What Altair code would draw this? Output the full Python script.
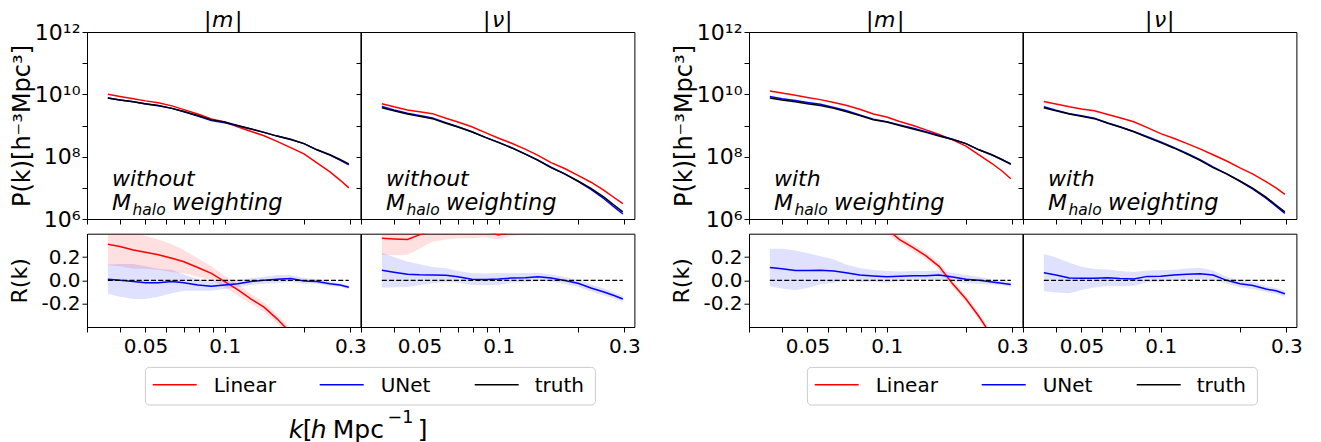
import altair as alt
import pandas as pd

FONT = "DejaVu Sans"

# ---------------- data ----------------
k = [0.036, 0.040, 0.045, 0.050, 0.056, 0.063, 0.070, 0.079, 0.089, 0.100,
     0.112, 0.126, 0.141, 0.158, 0.178, 0.200, 0.224, 0.251, 0.274, 0.296]

# log10 P(k)
logP_truth_m = [9.88, 9.82, 9.76, 9.70, 9.64, 9.55, 9.45, 9.32, 9.18, 9.11,
                9.00, 8.89, 8.78, 8.66, 8.55, 8.42, 8.22, 8.06, 7.91, 7.77]
logP_truth_nu = [9.57, 9.47, 9.37, 9.30, 9.22, 9.07, 8.95, 8.80, 8.62, 8.45,
                 8.28, 8.08, 7.88, 7.65, 7.45, 7.22, 6.98, 6.70, 6.45, 6.23]
logP_lin_m_wo = [10.00, 9.93, 9.86, 9.79, 9.73, 9.63, 9.51, 9.37, 9.21, 9.11,
                 8.96, 8.81, 8.67, 8.49, 8.29, 8.09, 7.80, 7.51, 7.25, 7.00]
logP_unet_m_wo = [9.88, 9.82, 9.76, 9.69, 9.63, 9.55, 9.44, 9.30, 9.16, 9.09,
                  8.99, 8.89, 8.78, 8.66, 8.56, 8.42, 8.22, 8.05, 7.89, 7.74]
logP_lin_nu_wo = [9.70, 9.60, 9.50, 9.44, 9.38, 9.23, 9.11, 8.96, 8.77, 8.59,
                  8.43, 8.24, 8.04, 7.81, 7.62, 7.40, 7.18, 6.92, 6.69, 6.49]
logP_unet_nu_wo = [9.61, 9.50, 9.39, 9.32, 9.24, 9.09, 8.96, 8.80, 8.62, 8.46,
                   8.29, 8.09, 7.89, 7.66, 7.45, 7.21, 6.95, 6.65, 6.39, 6.16]
logP_lin_m_w = [10.11, 10.04, 9.97, 9.90, 9.83, 9.74, 9.65, 9.52, 9.37, 9.27,
                9.13, 9.00, 8.86, 8.71, 8.54, 8.34, 8.06, 7.78, 7.54, 7.29]
logP_unet_m_w = [9.93, 9.86, 9.80, 9.74, 9.68, 9.58, 9.48, 9.34, 9.20, 9.12,
                 9.02, 8.91, 8.80, 8.68, 8.56, 8.42, 8.22, 8.05, 7.90, 7.75]
logP_lin_nu_w = [9.77, 9.69, 9.60, 9.53, 9.47, 9.35, 9.25, 9.12, 8.93, 8.74,
                 8.59, 8.42, 8.25, 8.06, 7.86, 7.64, 7.44, 7.20, 7.00, 6.79]
logP_unet_nu_w = [9.60, 9.49, 9.38, 9.31, 9.23, 9.08, 8.96, 8.81, 8.64, 8.47,
                  8.30, 8.10, 7.90, 7.67, 7.45, 7.21, 6.96, 6.67, 6.41, 6.18]

# R(k) and half-width of the shaded band
R_lin_m_wo = [0.31, 0.29, 0.26, 0.24, 0.22, 0.19, 0.16, 0.11, 0.06, -0.01,
              -0.08, -0.16, -0.23, -0.33, -0.45, -0.53, -0.62, -0.72, -0.78, -0.83]
hw_lin_m_wo = [0.18, 0.17, 0.16, 0.14, 0.13, 0.12, 0.10, 0.08, 0.06, 0.05,
               0.05, 0.04, 0.04, 0.04, 0.04, 0.04, 0.04, 0.04, 0.04, 0.04]
R_unet_m_wo = [0.01, 0.0, -0.01, -0.02, -0.02, -0.01, -0.02, -0.04, -0.05, -0.04,
               -0.03, -0.01, 0.0, 0.01, 0.015, -0.005, -0.01, -0.03, -0.04, -0.06]
hw_unet_m_wo = [0.125, 0.14, 0.15, 0.14, 0.12, 0.10, 0.07, 0.05, 0.04, 0.035,
                0.03, 0.03, 0.03, 0.035, 0.03, 0.025, 0.02, 0.02, 0.015, 0.015]

R_lin_nu_wo = [0.36, 0.355, 0.35, 0.39, 0.43, 0.44, 0.44, 0.43, 0.42, 0.39,
               0.42, 0.43, 0.44, 0.45, 0.48, 0.52, 0.58, 0.66, 0.74, 0.82]
hw_lin_nu_wo = [0.14, 0.14, 0.13, 0.12, 0.10, 0.09, 0.08, 0.07, 0.05, 0.04,
                0.04, 0.04, 0.04, 0.04, 0.04, 0.04, 0.05, 0.05, 0.05, 0.05]
R_unet_nu_wo = [0.086, 0.07, 0.052, 0.047, 0.045, 0.043, 0.03, 0.01, 0.008, 0.012,
                0.02, 0.022, 0.03, 0.02, -0.002, -0.025, -0.065, -0.10, -0.13, -0.16]
hw_unet_nu_wo = [0.15, 0.13, 0.11, 0.09, 0.07, 0.06, 0.05, 0.05, 0.05, 0.05,
                 0.04, 0.04, 0.035, 0.03, 0.03, 0.03, 0.03, 0.03, 0.025, 0.025]

R_lin_m_w = [0.70, 0.66, 0.62, 0.58, 0.55, 0.56, 0.58, 0.60, 0.55, 0.44,
             0.35, 0.28, 0.21, 0.12, -0.03, -0.16, -0.31, -0.48, -0.57, -0.67]
hw_lin_m_w = [0.08, 0.08, 0.07, 0.07, 0.06, 0.06, 0.05, 0.05, 0.04, 0.04,
              0.03, 0.03, 0.03, 0.03, 0.03, 0.03, 0.03, 0.03, 0.03, 0.03]
R_unet_m_w = [0.11, 0.10, 0.085, 0.085, 0.086, 0.08, 0.065, 0.045, 0.038, 0.03,
              0.035, 0.04, 0.04, 0.045, 0.028, 0.01, 0.0, -0.015, -0.025, -0.035]
hw_unet_m_w = [0.16, 0.17, 0.17, 0.15, 0.12, 0.10, 0.07, 0.06, 0.05, 0.05,
               0.04, 0.04, 0.04, 0.04, 0.035, 0.035, 0.03, 0.02, 0.02, 0.02]

R_lin_nu_w = [0.58, 0.66, 0.70, 0.70, 0.78, 0.91, 1.00, 1.09, 1.04, 0.95,
              1.04, 1.19, 1.34, 1.57, 1.69, 1.51, 1.95, 2.16, 2.55, 2.63]
hw_lin_nu_w = [0.06, 0.06, 0.06, 0.06, 0.06, 0.06, 0.06, 0.06, 0.06, 0.06,
               0.06, 0.06, 0.06, 0.06, 0.06, 0.06, 0.06, 0.06, 0.06, 0.06]
R_unet_nu_w = [0.066, 0.045, 0.02, 0.017, 0.018, 0.022, 0.015, 0.012, 0.034, 0.036,
               0.045, 0.052, 0.057, 0.045, 0.0, -0.03, -0.045, -0.075, -0.09, -0.115]
hw_unet_nu_w = [0.16, 0.15, 0.13, 0.10, 0.08, 0.07, 0.065, 0.06, 0.05, 0.05,
                0.045, 0.05, 0.05, 0.04, 0.03, 0.03, 0.03, 0.025, 0.025, 0.025]

series_names = ["Linear", "UNet", "truth"]
series_colors = ["red", "blue", "black"]

K_TICKS = [0.03, 0.04, 0.05, 0.06, 0.07, 0.08, 0.09, 0.1, 0.2, 0.3]
P_TICKS = [1e6, 1e7, 1e8, 1e9, 1e10, 1e11, 1e12]
R_TICKS = [-0.2, 0.0, 0.2]

# ---------------- layout constants ----------------
W = 273.4
HT = 187
HB = 93.3
HL = 101
GAP = 113.3
VSP = 14.7

xs = alt.Scale(type="log", domain=[0.030, 0.3275], nice=False)
ys_top = alt.Scale(type="log", domain=[1e6, 1e12], nice=False)
ys_bot = alt.Scale(domain=[-0.4, 0.4], nice=False, zero=False)

P_LABELS = ("round(log(datum.value)/LN10) == 12 ? '10¹²' : "
            "round(log(datum.value)/LN10) == 10 ? '10¹⁰' : "
            "round(log(datum.value)/LN10) == 8 ? '10⁸' : "
            "round(log(datum.value)/LN10) == 6 ? '10⁶' : ''")
K_LABELS = ("abs(datum.value-0.05) < 1e-6 ? '0.05' : "
            "abs(datum.value-0.1) < 1e-6 ? '0.1' : "
            "abs(datum.value-0.3) < 1e-6 ? '0.3' : ''")
R_LABELS = ("datum.value < -0.1 ? '-0.2' : datum.value > 0.1 ? '0.2' : '0.0'")

one = pd.DataFrame({"a": [0]})
NOSTROKE = alt.ViewBackground(stroke="transparent")


def txt(s, x, y, size=22, italic=False, align="left", baseline="alphabetic"):
    return alt.Chart(one).mark_text(
        text=s, font=FONT, fontSize=size, fontStyle="italic" if italic else "normal",
        align=align, baseline=baseline, color="black"
    ).encode(x=alt.value(x), y=alt.value(y))


def top_panel(truth, lin, unet, sym, first_col, note):
    rows = []
    for name, arr in zip(series_names, [lin, unet, truth]):
        for kk, v in zip(k, arr):
            rows.append({"k": kk, "series": name, "P": 10 ** v})
    df = pd.DataFrame(rows)
    xenc = alt.X("k:Q", scale=xs,
                 axis=alt.Axis(values=K_TICKS, labels=False, title=None,
                               labelFlush=False, labelOverlap=False))
    if first_col:
        yax = alt.Axis(values=P_TICKS, labelExpr=P_LABELS, labelOverlap=False,
                       labelFlush=False, labelFontSize=22,
                       title="P(k)[h⁻³Mpc³]", titleFontSize=24, titlePadding=0)
    else:
        yax = alt.Axis(values=P_TICKS, labels=False, title=None)
    yenc = alt.Y("P:Q", scale=ys_top, axis=yax)
    layers = []
    for name, col in zip(series_names, series_colors):
        layers.append(
            alt.Chart(df).transform_filter(alt.datum.series == name)
            .mark_line(color=col, strokeWidth=1.5, clip=True)
            .encode(x=xenc, y=yenc)
        )
    cx = W / 2
    ty = -5
    if sym == "m":
        layers += [txt("|", cx - 16, ty, align="center"),
                   txt("m", cx - 1, ty, italic=True, align="center"),
                   txt("|", cx + 15, ty, align="center")]
    else:
        layers += [txt("|", cx - 11, ty, align="center"),
                   txt("ν", cx + 0.5, ty, italic=True, align="center"),
                   txt("|", cx + 11, ty, align="center")]
    layers += [txt(note, 25, 154, size=22, italic=True),
               txt("M", 25, 177.5, size=22, italic=True),
               txt("halo", 45.5, 182.5, size=15.5, italic=True),
               txt("weighting", 85, 177.5, size=22.5, italic=True)]
    return alt.layer(*layers).properties(width=W, height=HT)


def bot_panel(Rl, hwl, Ru, hwu, first_col):
    rows = []
    for name, R, hw in [("Linear", Rl, hwl), ("UNet", Ru, hwu)]:
        for kk, r, h in zip(k, R, hw):
            rows.append({"k": kk, "series": name, "R": r, "lo": r - h, "hi": r + h})
    for kk in k:
        rows.append({"k": kk, "series": "truth", "R": 0.0, "lo": 0.0, "hi": 0.0})
    df = pd.DataFrame(rows)
    xenc = alt.X("k:Q", scale=xs,
                 axis=alt.Axis(values=K_TICKS, labelExpr=K_LABELS, title=None,
                               labelFlush=False, labelOverlap=False, labelPadding=4))
    if first_col:
        yax = alt.Axis(values=R_TICKS, labelExpr=R_LABELS, title="R(k)",
                       labelFlush=False, labelOverlap=False, titlePadding=9)
    else:
        yax = alt.Axis(values=R_TICKS, labels=False, ticks=False, title=None)
    yenc = alt.Y("R:Q", scale=ys_bot, axis=yax)
    layers = []
    for name, col in [("Linear", "red"), ("UNet", "blue")]:
        layers.append(
            alt.Chart(df).transform_filter(alt.datum.series == name)
            .mark_area(color=col, opacity=0.12, clip=True)
            .encode(x=xenc, y=alt.Y("lo:Q", scale=ys_bot, axis=yax), y2="hi:Q")
        )
    for name, col in [("Linear", "red"), ("UNet", "blue")]:
        layers.append(
            alt.Chart(df).transform_filter(alt.datum.series == name)
            .mark_line(color=col, strokeWidth=1.5, clip=True)
            .encode(x=xenc, y=yenc)
        )
    layers.append(
        alt.Chart(df).transform_filter(alt.datum.series == "truth")
        .mark_line(color="black", strokeWidth=1.2, strokeDash=[5, 2.2], clip=True)
        .encode(x=xenc, y=yenc)
    )
    return alt.layer(*layers).properties(width=W, height=HB)


def legend_cell(with_xlabel):
    frame = alt.Chart(one).mark_rect(
        fill="white", stroke="#cccccc", strokeWidth=1, cornerRadius=4
    ).encode(x=alt.value(58.4), x2=alt.value(508.4), y=alt.value(25), y2=alt.value(62.6))
    layers = [frame]
    line_x = [65.7, 232.7, 387.7]
    text_x = [126.7, 293.7, 447.7]
    for name, col, lx, tx in zip(series_names, series_colors, line_x, text_x):
        layers.append(alt.Chart(one).mark_rule(color=col, strokeWidth=1.5).encode(
            x=alt.value(lx), x2=alt.value(lx + 44), y=alt.value(42.3)))
        layers.append(txt(name, tx, 50, size=20))
    if with_xlabel:
        layers += [txt("k", 201.7, 96, size=25, italic=True),
                   txt("[", 215.7, 96, size=25),
                   txt("h", 223.7, 96, size=25, italic=True),
                   txt("Mpc", 245.7, 96, size=25),
                   txt("−1", 300.5, 81, size=17.5),
                   txt("]", 330.7, 96, size=25)]
    return alt.layer(*layers).properties(width=W, height=HL, view=NOSTROKE)


def blank(w, h):
    return alt.Chart(one).mark_point(opacity=0).encode(
        x=alt.value(0), y=alt.value(0)).properties(width=w, height=h, view=NOSTROKE)


cells = [
    top_panel(logP_truth_m, logP_lin_m_wo, logP_unet_m_wo, "m", True, "without"),
    top_panel(logP_truth_nu, logP_lin_nu_wo, logP_unet_nu_wo, "nu", False, "without"),
    blank(GAP, HT),
    top_panel(logP_truth_m, logP_lin_m_w, logP_unet_m_w, "m", True, "with"),
    top_panel(logP_truth_nu, logP_lin_nu_w, logP_unet_nu_w, "nu", False, "with"),

    bot_panel(R_lin_m_wo, hw_lin_m_wo, R_unet_m_wo, hw_unet_m_wo, True),
    bot_panel(R_lin_nu_wo, hw_lin_nu_wo, R_unet_nu_wo, hw_unet_nu_wo, False),
    blank(GAP, HB),
    bot_panel(R_lin_m_w, hw_lin_m_w, R_unet_m_w, hw_unet_m_w, True),
    bot_panel(R_lin_nu_w, hw_lin_nu_w, R_unet_nu_w, hw_unet_nu_w, False),

    legend_cell(True),
    blank(W, HL),
    blank(GAP, HL),
    legend_cell(False),
    blank(W, HL),
]

chart = alt.concat(
    *cells, columns=5, spacing={"row": VSP, "column": 0}, bounds="flush"
).properties(
    padding={"left": 0, "top": 0, "right": 0, "bottom": 0}
).configure(font=FONT, background="white").configure_axis(
    labelFont=FONT, labelFontSize=20, labelColor="black",
    titleFont=FONT, titleFontSize=22, titleFontWeight="normal", titleColor="black",
    tickColor="black", domainColor="black", tickSize=5, tickWidth=1, domainWidth=1,
    grid=False, labelPadding=2
).configure_view(stroke="black", strokeWidth=1)

chart.save("out.html", embed_options={"renderer": "svg", "actions": False})
